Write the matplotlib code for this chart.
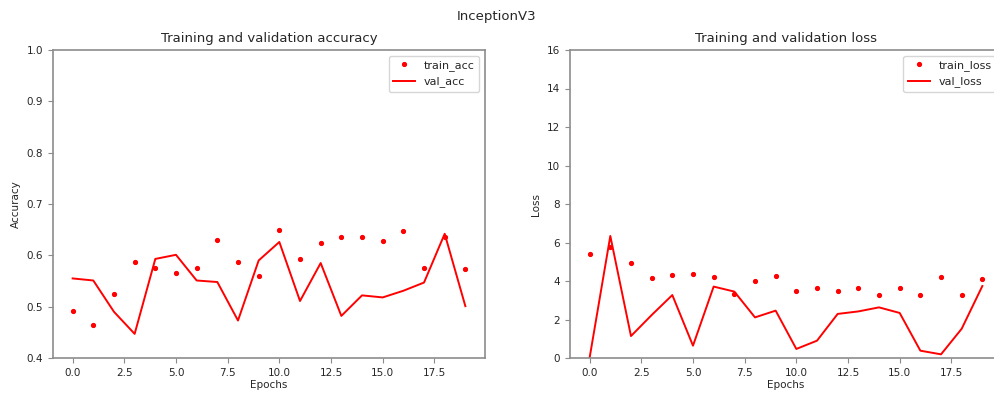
import matplotlib
matplotlib.use('Agg')
import matplotlib.pyplot as plt

# ----- Historique d'entrainement InceptionV3
epochs = list(range(20))

train_acc = [0.492, 0.464, 0.525, 0.587, 0.576, 0.565, 0.576, 0.629, 0.587, 0.560,
             0.649, 0.592, 0.625, 0.636, 0.636, 0.627, 0.647, 0.576, 0.635, 0.574]
val_acc = [0.555, 0.551, 0.490, 0.447, 0.593, 0.601, 0.551, 0.548, 0.473, 0.590,
           0.626, 0.511, 0.585, 0.482, 0.522, 0.518, 0.531, 0.547, 0.642, 0.501]

train_loss = [5.40, 5.78, 4.93, 4.17, 4.29, 4.35, 4.23, 3.31, 4.00, 4.24,
              3.46, 3.64, 3.46, 3.64, 3.29, 3.64, 3.29, 4.23, 3.29, 4.10]
val_loss = [0.02, 6.34, 1.14, 2.23, 3.27, 0.64, 3.71, 3.45, 2.11, 2.46,
            0.47, 0.90, 2.29, 2.42, 2.63, 2.34, 0.38, 0.19, 1.52, 3.74]

plt.rcParams['font.size'] = 7.5
plt.rcParams['text.color'] = '#262626'
plt.rcParams['xtick.color'] = '#262626'
plt.rcParams['ytick.color'] = '#262626'
plt.rcParams['axes.labelcolor'] = '#262626'
plt.rcParams['legend.fontsize'] = 8

fig = plt.figure(figsize=(9.94, 3.96), dpi=100)
fig.suptitle('InceptionV3', fontsize=9.5, y=0.975)

# position des deux graphes (le second deborde a droite)
ax1 = fig.add_axes([53/994, 1 - 358/396, 432/994, 308/396])
ax2 = fig.add_axes([570/994, 1 - 358/396, 432/994, 308/396])

ax1.plot(epochs, train_acc, 'r.', markersize=5.5, label='train_acc')
ax1.plot(epochs, val_acc, 'r', lw=1.4, label='val_acc')
ax1.set_ylim(0.4, 1.0)
ax1.set_title('Training and validation accuracy', fontsize=9.5)
ax1.set_xlabel('Epochs', labelpad=2)
ax1.set_ylabel('Accuracy', labelpad=4)
ax1.legend(loc='upper right')

ax2.plot(epochs, train_loss, 'r.', markersize=5.5, label='train_loss')
ax2.plot(epochs, val_loss, 'r', lw=1.4, label='val_loss')
ax2.set_ylim(0, 16)
ax2.set_title('Training and validation loss', fontsize=9.5)
ax2.set_xlabel('Epochs', labelpad=2)
ax2.set_ylabel('Loss', labelpad=4)
ax2.legend(loc='upper right')

for ax in (ax1, ax2):
    for s in ax.spines.values():
        s.set_color('#8c8c8c')
        s.set_linewidth(1.2)
    ax.tick_params(color='#8c8c8c', labelsize=7.5)

plt.savefig('out.png', dpi=100)
